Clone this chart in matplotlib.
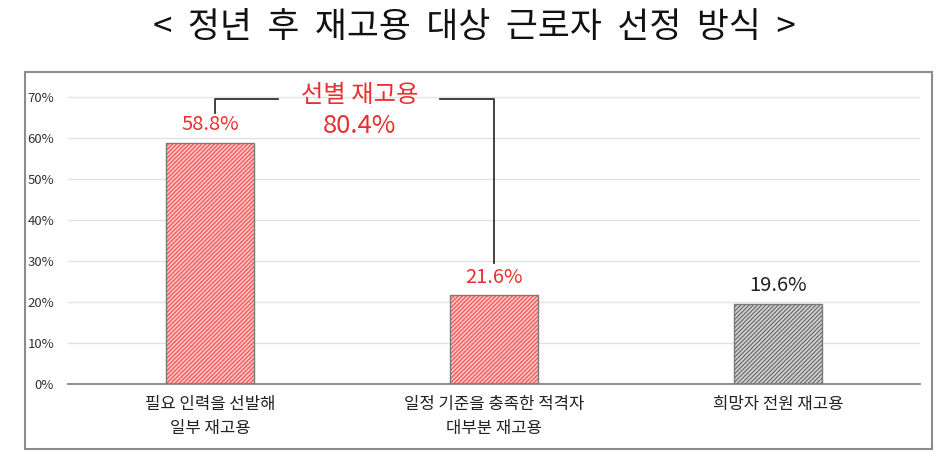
import matplotlib.pyplot as plt
import matplotlib.patches as mpatches
import numpy as np

plt.rcParams['font.family'] = ['Noto Sans CJK KR', 'DejaVu Sans']
plt.rcParams['hatch.linewidth'] = 0.9

# data
categories = ['필요 인력을 선발해\n일부 재고용', '일정 기준을 충족한 적격자\n대부분 재고용', '희망자 전원 재고용']
values = [58.8, 21.6, 19.6]
labels = ['58.8%', '21.6%', '19.6%']
selected_total = '80.4%'
yticks = [0, 10, 20, 30, 40, 50, 60, 70]

red = '#e8312f'
face = ['#ffc4c4', '#ffc4c4', '#d4d4d4']
hatchc = ['#f05555', '#f05555', '#6e6e6e']
lblc = [red, red, '#222222']

fig = plt.figure(figsize=(9.48, 4.68), dpi=100)
ax = fig.add_axes([68/948, 1-384/468, 852/948, 72*4.1/468])

x = np.arange(len(values))
w = 0.31
# hatched fill, then grey outline
ax.bar(x, values, width=w, color=face, edgecolor=hatchc, hatch='////////', linewidth=0, zorder=2)
ax.bar(x, values, width=w, fill=False, edgecolor='#7a7a7a', linewidth=1.0, zorder=3)

for i in range(len(values)):
    ax.text(x[i], values[i] + 4.4, labels[i], ha='center', va='center',
            fontsize=14.5, color=lblc[i])

ax.set_xlim(-0.5, 2.5)
ax.set_ylim(0, 72)
ax.set_yticks(yticks)
ax.set_yticklabels([f'{t}%' for t in yticks], fontsize=9.5, color='#333333')
ax.set_xticks(x)
ax.set_xticklabels(categories, fontsize=12, color='#222222', linespacing=1.5)
ax.tick_params(axis='both', length=0)
ax.tick_params(axis='y', pad=10)
ax.tick_params(axis='x', pad=9)
ax.grid(axis='y', color='#e2e2e2', linewidth=1, zorder=0)
for s in ['top', 'right', 'left']:
    ax.spines[s].set_visible(False)
ax.spines['bottom'].set_color('#7a7a7a')
ax.spines['bottom'].set_linewidth(1.2)

# bracket
ax.plot([0.018, 0.018, 0.24], [66.1, 69.5, 69.5], color='#333333', lw=1.3, zorder=4, clip_on=False)
ax.plot([0.81, 1.0, 1.0], [69.5, 69.5, 29.5], color='#333333', lw=1.3, zorder=4, clip_on=False)
ax.text(0.528, 70.6, '선별 재고용', ha='center', va='center', fontsize=17.5, color=red, fontweight='medium')
ax.text(0.528, 62.9, selected_total, ha='center', va='center', fontsize=18.5, color=red)

# outer frame
fig.patches.append(mpatches.Rectangle((25/948, 1-449/468), (932-25)/948, (449-72)/468,
                                      transform=fig.transFigure, fill=False,
                                      edgecolor='#8c8c8c', linewidth=1.5))

fig.text(0.5, 1-28/468, '<  정년  후  재고용  대상  근로자  선정  방식  >', ha='center', va='center',
         fontsize=25, fontweight='medium', color='#111111')

fig.savefig('out.png', dpi=100)
